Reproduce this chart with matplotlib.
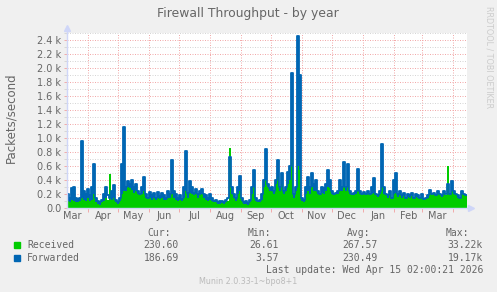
import pandas as pd
import matplotlib
matplotlib.use("Agg")
import matplotlib.pyplot as plt
import matplotlib.dates as mdates
from matplotlib.patches import Rectangle
from matplotlib.ticker import MultipleLocator, FuncFormatter, NullFormatter

# daily averages, one value every 2 days from 2025-03-11
START = "2025-03-11"
END = "2026-04-15"

forwarded = [
    200, 150, 280, 300, 150, 130, 150, 960, 250, 200,
    270, 180, 300, 630, 150, 100, 80, 120, 200, 300,
    180, 150, 250, 330, 120, 80, 150, 630, 1160, 300,
    380, 350, 400, 300, 350, 250, 200, 300, 450, 200,
    150, 230, 180, 220, 150, 230, 170, 220, 180, 150,
    240, 200, 690, 250, 200, 150, 180, 130, 300, 810,
    220, 380, 300, 220, 270, 200, 250, 270, 200, 180,
    150, 200, 150, 100, 120, 90, 100, 100, 80, 120,
    150, 730, 300, 200, 150, 300, 460, 150, 80, 100,
    70, 120, 300, 540, 150, 100, 120, 200, 400, 850,
    350, 280, 300, 250, 400, 690, 300, 500, 250, 300,
    520, 600, 1930, 200, 300, 2450, 1900, 150, 120, 300,
    450, 300, 500, 350, 400, 250, 200, 300, 280, 350,
    540, 400, 250, 200, 220, 250, 400, 300, 660, 300,
    630, 250, 200, 220, 250, 560, 250, 200, 230, 200,
    250, 200, 300, 430, 200, 180, 250, 910, 300, 200,
    180, 250, 150, 400, 500, 200, 250, 180, 220, 150,
    200, 180, 220, 150, 200, 180, 150, 200, 130, 150,
    180, 260, 200, 220, 180, 250, 200, 180, 250, 200,
    350, 200, 380, 250, 200, 180, 150, 250, 200, 190,
]

received = [
    100, 80, 120, 100, 90, 80, 100, 150, 120, 100,
    150, 100, 120, 200, 80, 60, 50, 80, 100, 150,
    120, 480, 120, 150, 80, 60, 100, 200, 250, 250,
    300, 280, 260, 220, 240, 200, 180, 200, 250, 150,
    130, 150, 120, 150, 120, 140, 130, 150, 120, 110,
    150, 150, 200, 150, 120, 100, 120, 100, 150, 250,
    150, 220, 200, 180, 200, 150, 180, 200, 150, 120,
    100, 120, 100, 80, 80, 60, 60, 70, 60, 80,
    100, 850, 200, 150, 100, 200, 250, 100, 60, 60,
    50, 80, 200, 300, 100, 80, 90, 120, 300, 400,
    300, 250, 250, 200, 350, 450, 250, 350, 200, 250,
    350, 400, 700, 150, 250, 600, 550, 100, 80, 200,
    250, 200, 300, 250, 250, 200, 180, 220, 200, 250,
    300, 280, 200, 180, 200, 200, 250, 250, 300, 250,
    300, 200, 180, 180, 200, 250, 200, 180, 200, 180,
    200, 180, 200, 220, 180, 160, 200, 300, 200, 180,
    150, 180, 130, 200, 220, 160, 180, 150, 170, 140,
    160, 150, 170, 140, 160, 150, 140, 150, 120, 130,
    150, 220, 180, 200, 170, 200, 180, 160, 200, 180,
    600, 180, 250, 200, 180, 150, 140, 200, 180, 170,
]

series_names = ["Received", "Forwarded"]
cur_vals = ["230.60", "186.69"]
min_vals = ["26.61", "3.57"]
avg_vals = ["267.57", "230.49"]
max_vals = ["33.22k", "19.17k"]

GREEN = "#00CC00"
BLUE = "#0066B3"
FONT = "#666666"
AXIS = "#CFD6F8"
MGRID = "#F2AAAA"
GRID = "#D6D6D6"

W, H = 497, 292


def fx(x):
    return x / W


def fy(y):
    return 1 - y / H


fig = plt.figure(figsize=(W / 100, H / 100), dpi=100, facecolor="#F0F0F0")
ax = fig.add_axes([fx(67), fy(208), 400 / W, 175 / H])
ax.set_facecolor("white")

dates = pd.date_range(START, periods=len(forwarded), freq="2D")
xs = list(dates) + [pd.Timestamp(END)]
rec = received + [received[-1]]
fwd = forwarded + [forwarded[-1]]

ax.fill_between(xs, 0, rec, step="post", color=GREEN, lw=0, zorder=2)
# the thick forwarded line fills in the narrow spikes above the green area
ax.fill_between(xs, rec, fwd, where=[f > r for f, r in zip(fwd, rec)],
                step="post", color=BLUE, lw=0, zorder=3)
ax.plot(xs, fwd, drawstyle="steps-post", color=BLUE, lw=1.3, zorder=3)

ax.set_xlim(pd.Timestamp(START), pd.Timestamp(END))
ax.set_ylim(0, 2500)

# months: grid at month start, label in the middle
ax.xaxis.set_major_locator(mdates.MonthLocator())
ax.xaxis.set_major_formatter(NullFormatter())
ax.xaxis.set_minor_locator(mdates.MonthLocator(bymonthday=16))
ax.xaxis.set_minor_formatter(mdates.DateFormatter("%b"))
ax.tick_params(axis="x", which="major", length=3, color=MGRID, width=0.7)
ax.tick_params(axis="x", which="minor", length=0, pad=2.5, labelsize=7, labelcolor=FONT)

ax.yaxis.set_major_locator(MultipleLocator(200))
ax.yaxis.set_minor_locator(MultipleLocator(100))
ax.yaxis.set_major_formatter(
    FuncFormatter(lambda v, p: "0.0" if v == 0 else f"{v / 1000:.1f} k"))
ax.tick_params(axis="y", which="major", length=2.5, color=MGRID, width=0.7,
               labelsize=7, labelcolor=FONT, pad=1.5)
ax.tick_params(axis="y", which="minor", length=2.5, color=GRID, width=0.7)

ax.grid(True, which="major", color=MGRID, linestyle=(0, (1, 1.5)), lw=0.72, zorder=1)
ax.grid(True, which="minor", axis="y", color=GRID, linestyle=(0, (1, 1.5)), lw=0.72, zorder=1)
ax.set_axisbelow(True)

for s in ["top", "right"]:
    ax.spines[s].set_visible(False)
for s in ["left", "bottom"]:
    ax.spines[s].set_color(AXIS)
    ax.spines[s].set_linewidth(1.0)
    ax.spines[s].set_zorder(4)

# axis arrows
ax.plot([0, 0], [1, 1.02], color=AXIS, lw=1.0, transform=ax.transAxes, clip_on=False)
ax.plot([0], [1.03], marker="^", ms=4, color=AXIS, transform=ax.transAxes, clip_on=False)
ax.plot([1, 1.005], [0, 0], color=AXIS, lw=1.0, transform=ax.transAxes, clip_on=False)
ax.plot([1.01], [0], marker=">", ms=4, color=AXIS, transform=ax.transAxes, clip_on=False)

fig.text(fx(248), fy(13), "Firewall Throughput - by year", ha="center", va="center",
         fontsize=8.9, color=FONT)
fig.text(fx(11), fy(118), "Packets/second", rotation=90, ha="center", va="center",
         fontsize=8.5, color=FONT)
fig.text(fx(489), fy(57), "RRDTOOL / TOBI OETIKER", rotation=270, ha="center",
         va="center", fontsize=5.8, color="#CCCCCC")

# legend table
mono = "DejaVu Sans Mono"
cols = [171, 271, 370, 469]
for x, h in zip(cols, ["Cur:", "Min:", "Avg:", "Max:"]):
    fig.text(fx(x), fy(233), h, ha="right", va="center", family=mono, fontsize=7, color=FONT)

rows = [245, 258]
vcols = [179, 279, 378, 483]
for i, name in enumerate(series_names):
    y = rows[i]
    fig.add_artist(Rectangle((fx(14), fy(y + 3)), 6 / W, 6 / H,
                             transform=fig.transFigure, color=[GREEN, BLUE][i]))
    fig.text(fx(27), fy(y), name, ha="left", va="center", family=mono, fontsize=7, color=FONT)
    vals = [cur_vals[i], min_vals[i], avg_vals[i], max_vals[i]]
    for x, v in zip(vcols, vals):
        fig.text(fx(x), fy(y), v, ha="right", va="center", family=mono, fontsize=7, color=FONT)

fig.text(fx(483), fy(270), "Last update: Wed Apr 15 02:00:21 2026", ha="right",
         va="center", family=mono, fontsize=7, color=FONT)
fig.text(fx(248), fy(281), "Munin 2.0.33-1~bpo8+1", ha="center", va="center",
         fontsize=5.8, color="#BBBBBB")

fig.savefig("out.png", dpi=100, facecolor=fig.get_facecolor())
